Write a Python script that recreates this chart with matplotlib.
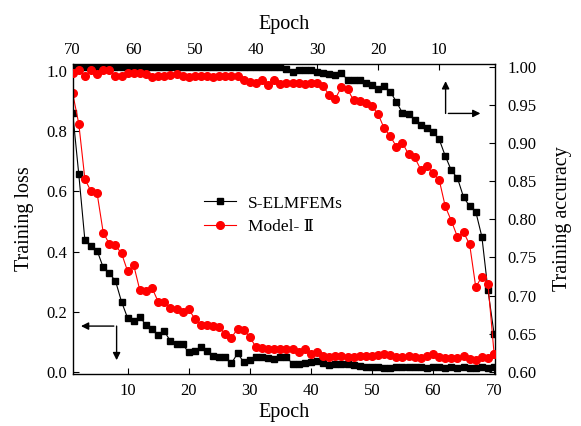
import numpy as np
import matplotlib
matplotlib.use("Agg")
from matplotlib import pyplot as plt

plt.rcParams['font.family'] = ['Liberation Serif', 'DejaVu Serif']

epochs = np.arange(1, 71)

# training loss
loss_selm = [0.86, 0.656, 0.437, 0.417, 0.403, 0.347, 0.327, 0.303, 0.233, 0.179,
             0.170, 0.184, 0.155, 0.143, 0.122, 0.135, 0.103, 0.094, 0.092, 0.065,
             0.070, 0.083, 0.070, 0.054, 0.051, 0.051, 0.029, 0.062, 0.033, 0.040,
             0.051, 0.051, 0.045, 0.043, 0.050, 0.050, 0.027, 0.027, 0.029, 0.033,
             0.036, 0.029, 0.022, 0.027, 0.025, 0.025, 0.022, 0.020, 0.018, 0.016,
             0.016, 0.014, 0.014, 0.018, 0.016, 0.018, 0.015, 0.016, 0.014, 0.015,
             0.016, 0.014, 0.015, 0.013, 0.015, 0.014, 0.013, 0.015, 0.014, 0.016]
loss_model2 = [0.925, 0.824, 0.640, 0.600, 0.593, 0.463, 0.425, 0.420, 0.394, 0.334,
               0.354, 0.271, 0.268, 0.279, 0.233, 0.233, 0.214, 0.209, 0.200, 0.208,
               0.177, 0.155, 0.155, 0.152, 0.149, 0.125, 0.114, 0.144, 0.140, 0.116,
               0.083, 0.079, 0.078, 0.076, 0.078, 0.078, 0.076, 0.065, 0.078, 0.060,
               0.065, 0.054, 0.051, 0.054, 0.054, 0.051, 0.051, 0.054, 0.054, 0.052,
               0.056, 0.059, 0.057, 0.051, 0.051, 0.054, 0.050, 0.045, 0.052, 0.060,
               0.050, 0.048, 0.046, 0.048, 0.052, 0.042, 0.040, 0.050, 0.045, 0.060]

# training accuracy (epoch 1 first)
acc_selm = [0.650, 0.707, 0.777, 0.810, 0.817, 0.829, 0.854, 0.864, 0.883, 0.905,
            0.914, 0.919, 0.924, 0.930, 0.938, 0.939, 0.954, 0.967, 0.975, 0.970,
            0.976, 0.978, 0.982, 0.983, 0.983, 0.991, 0.989, 0.990, 0.991, 0.993,
            0.996, 0.995, 0.996, 0.993, 0.997, 0.999, 1.000, 1.000, 1.000, 1.000,
            1.000, 1.000, 1.000, 1.000, 1.000, 1.000, 1.000, 1.000, 1.000, 1.000,
            1.000, 1.000, 1.000, 1.000, 1.000, 1.000, 1.000, 1.000, 1.000, 1.000,
            1.000, 1.000, 1.000, 1.000, 1.000, 1.000, 1.000, 1.000, 1.000, 1.000]
acc_model2 = [0.624, 0.715, 0.725, 0.711, 0.767, 0.783, 0.777, 0.798, 0.817, 0.852,
              0.860, 0.870, 0.865, 0.881, 0.885, 0.900, 0.895, 0.909, 0.919, 0.938,
              0.948, 0.952, 0.955, 0.956, 0.970, 0.973, 0.958, 0.963, 0.974, 0.978,
              0.978, 0.977, 0.978, 0.979, 0.978, 0.977, 0.982, 0.976, 0.983, 0.979,
              0.980, 0.983, 0.988, 0.988, 0.987, 0.988, 0.986, 0.987, 0.988, 0.988,
              0.986, 0.987, 0.990, 0.989, 0.988, 0.988, 0.986, 0.990, 0.992, 0.992,
              0.991, 0.988, 0.988, 0.996, 0.996, 0.990, 0.996, 0.987, 0.996, 0.992]

labels = ['S-ELMFEMs', 'Model- Ⅱ']
tick_fs = 12
label_fs = 14.5

fig = plt.figure(figsize=(5.81, 4.26), dpi=100)
rect = [0.1251, 0.1232, 0.7269, 0.7277]
ax = fig.add_axes(rect)
ax2 = fig.add_axes(rect, frameon=False)

l1, = ax.plot(epochs, loss_selm, '-s', color='black', lw=0.8, ms=4.8, label=labels[0])
l2, = ax.plot(epochs, loss_model2, '-o', color='red', lw=0.8, ms=5.5, label=labels[1])
ax2.plot(epochs, acc_selm, '-s', color='black', lw=0.8, ms=4.8)
ax2.plot(epochs, acc_model2, '-o', color='red', lw=0.8, ms=5.5)

ax.set_xlim(1.0, 70.15)
ax.set_ylim(-0.005, 1.024)
ax.set_xticks([10, 20, 30, 40, 50, 60, 70])
ax.set_yticks([0.0, 0.2, 0.4, 0.6, 0.8, 1.0])
ax.set_xlabel('Epoch', fontsize=label_fs, labelpad=3)
ax.set_ylabel('Training loss', fontsize=label_fs, labelpad=9)
ax.tick_params(direction='in', labelsize=tick_fs, length=4)
ax.tick_params(axis='x', pad=7)
ax.tick_params(axis='y', pad=4)

ax2.set_xlim(70.0, 0.85)
ax2.set_ylim(0.598, 1.004)
ax2.xaxis.tick_top()
ax2.xaxis.set_label_position('top')
ax2.yaxis.tick_right()
ax2.yaxis.set_label_position('right')
ax2.set_xticks([10, 20, 30, 40, 50, 60, 70])
ax2.set_yticks(np.arange(0.60, 1.001, 0.05))
ax2.set_yticklabels(['%.2f' % v for v in np.arange(0.60, 1.001, 0.05)])
ax2.set_xlabel('Epoch', fontsize=label_fs, labelpad=9)
ax2.set_ylabel('Training accuracy', fontsize=label_fs, labelpad=12)
ax2.tick_params(direction='in', labelsize=tick_fs, length=4)
ax2.tick_params(axis='y', pad=9)
ax2.tick_params(axis='x', pad=4)

for sp in ax.spines.values():
    sp.set_linewidth(1.0)

ax.legend(handles=[l1, l2], loc='center left', bbox_to_anchor=(0.275, 0.51),
          frameon=False, fontsize=12.5, handlelength=1.8, handletextpad=0.7,
          labelspacing=0.45)

arrow = dict(arrowstyle='-|>', color='black', lw=1.0, mutation_scale=11)
ax.annotate('', xy=(0.013, 0.153), xytext=(0.104, 0.153), xycoords='axes fraction',
            arrowprops=arrow)
ax.annotate('', xy=(0.104, 0.034), xytext=(0.104, 0.153), xycoords='axes fraction',
            arrowprops=dict(arrowstyle='-|>', color='black', lw=1.0, mutation_scale=11,
                            shrinkA=0))
ax.annotate('', xy=(0.883, 0.952), xytext=(0.883, 0.839), xycoords='axes fraction',
            arrowprops=dict(arrowstyle='-|>', color='black', lw=1.0, mutation_scale=11,
                            shrinkA=0))
ax.annotate('', xy=(0.972, 0.839), xytext=(0.883, 0.839), xycoords='axes fraction',
            arrowprops=arrow)

fig.savefig('out.png', dpi=100)
